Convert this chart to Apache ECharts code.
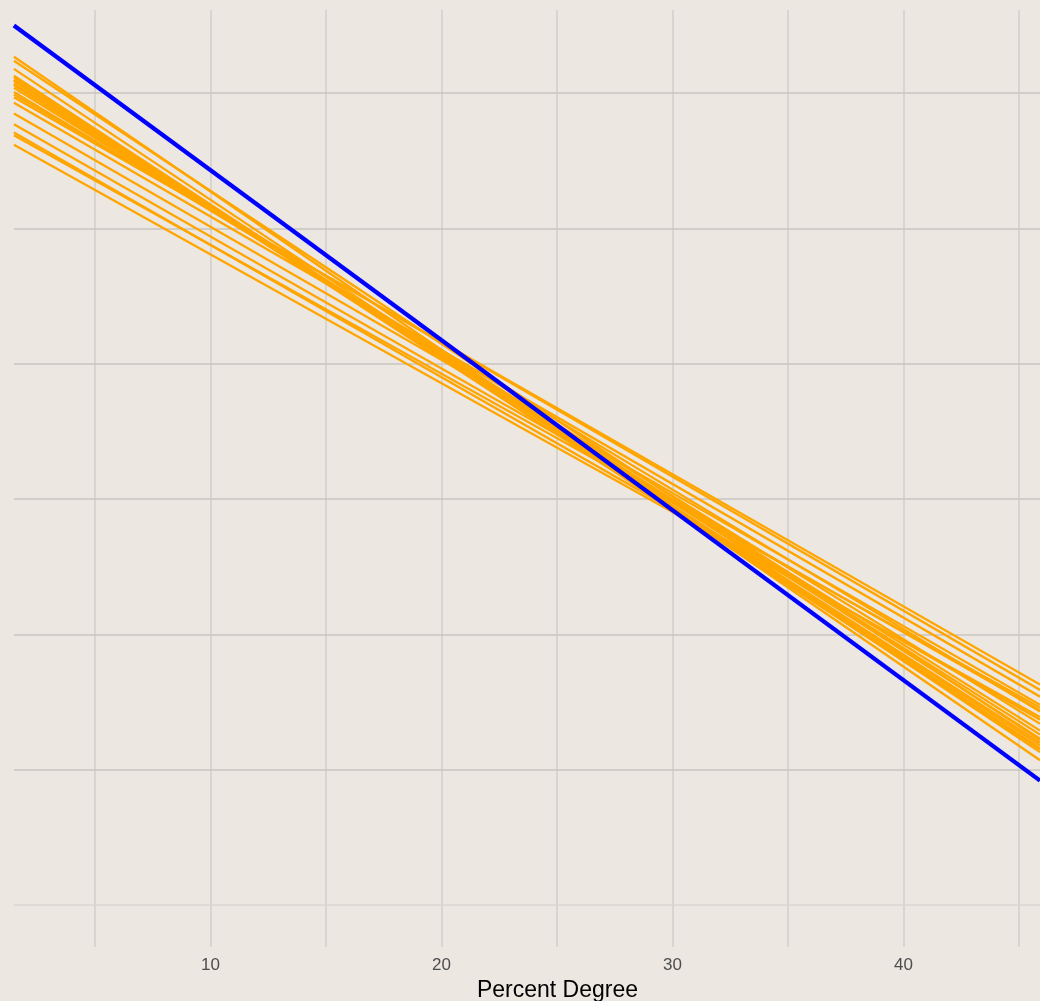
<!DOCTYPE html>
<html>
<head>
<meta charset="utf-8">
<script src="https://cdn.jsdelivr.net/npm/echarts@6/dist/echarts.min.js"></script>
<style>
html,body{margin:0;padding:0;background:#ece7e1;}
#chart{width:1040px;height:1001px;}
</style>
</head>
<body>
<div id="chart"></div>
<script>
// x positions where the fitted lines are evaluated (left and right visible edge)
const lineX = [1.49, 45.91];
// blue (main fit) line: y at left edge, y at right edge
const blueLine = [6.50, 0.92];
// orange (resampled fits): y at left edge and y at right edge
const orangeLeft  = [6.27, 6.24, 6.18, 6.13, 6.12, 6.10, 6.09, 6.07, 6.06, 6.04, 6.01, 5.99, 5.97, 5.93, 5.85, 5.77, 5.71, 5.69, 5.62, 6.10];
const orangeRight = [1.07, 1.22, 1.13, 1.16, 1.18, 1.23, 1.20, 1.26, 1.29, 1.34, 1.43, 1.59, 1.63, 1.54, 1.48, 1.44, 1.37, 1.46, 1.39, 1.15];
// tick labels / grid positions
const xTickLabels = [10, 20, 30, 40];
const xGridLines = [5, 10, 15, 20, 25, 30, 35, 40, 45];
const yGridMajor = [1, 2, 3, 4, 5, 6];
const yGridLight = [0];
const xTitle = 'Percent Degree';

const series = [];
// gridline carrier series
series.push({
  type: 'line', data: [], silent: true, z: 0,
  markLine: {
    z: 0, silent: true, symbol: ['none', 'none'], label: { show: false }, animation: false,
    data: []
      .concat(xGridLines.map(v => ({ xAxis: v, lineStyle: { color: '#d8d4cf', width: 2, type: 'solid' } })))
      .concat(yGridMajor.map(v => ({ yAxis: v, lineStyle: { color: '#c9c5c0', width: 1.5, type: 'solid' } })))
      .concat(yGridLight.map(v => ({ yAxis: v, lineStyle: { color: '#dad6d1', width: 1.5, type: 'solid' } })))
  }
});
orangeLeft.forEach((yl, i) => {
  series.push({
    type: 'line', symbol: 'none', silent: true, animation: false, z: 3,
    lineStyle: { color: '#ffa500', width: 2.3 },
    data: [[lineX[0], yl], [lineX[1], orangeRight[i]]]
  });
});
series.push({
  type: 'line', symbol: 'none', silent: true, animation: false, z: 4,
  lineStyle: { color: '#0000ff', width: 4.3 },
  data: [[lineX[0], blueLine[0]], [lineX[1], blueLine[1]]]
});

const chart = echarts.init(document.getElementById('chart'), null, { renderer: 'canvas' });
chart.setOption({
  backgroundColor: '#ece7e1',
  animation: false,
  grid: { left: 14, right: -61, top: 10, bottom: 54, containLabel: false, outerBoundsMode: 'none' },
  xAxis: {
    type: 'value', min: 1.494, max: 48.55,
    name: xTitle, nameLocation: 'middle', nameGap: 31,
    nameTextStyle: { color: '#000', fontSize: 23, fontFamily: 'Liberation Sans, Arial, sans-serif' },
    axisLine: { show: false }, axisTick: { show: false }, splitLine: { show: false },
    axisLabel: {
      customValues: xTickLabels, margin: 10,
      color: '#4d4d4d', fontSize: 17, fontFamily: 'Liberation Sans, Arial, sans-serif'
    }
  },
  yAxis: {
    type: 'value', min: -0.31, max: 6.615,
    axisLine: { show: false }, axisTick: { show: false }, splitLine: { show: false },
    axisLabel: { show: false }
  },
  series: series
});
</script>
</body>
</html>
